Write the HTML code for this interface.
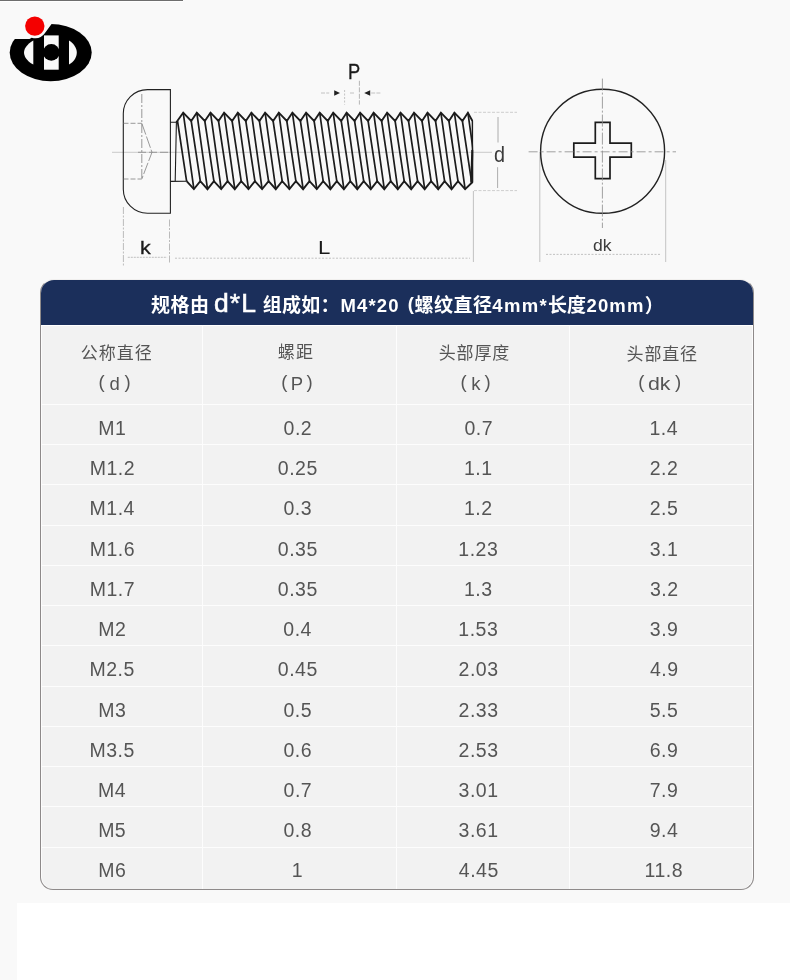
<!DOCTYPE html>
<html lang="zh-CN"><head><meta charset="utf-8"><title>规格表</title>
<style>
html,body{margin:0;padding:0;}
body{width:790px;height:980px;overflow:hidden;position:relative;background:#f9f9f9;font-family:"Liberation Sans","Noto Sans CJK SC",sans-serif;}
.topline{position:absolute;left:0;top:0;width:183px;height:1px;background:#6e6e6e;}
.topline2{position:absolute;left:0;top:1px;width:183px;height:1px;background:#fff;}
.dia{position:absolute;left:0;top:0;}
.white{position:absolute;left:17px;top:903px;width:773px;height:77px;background:#fff;}
.tbl{position:absolute;left:40px;top:279px;width:714px;height:611px;box-sizing:border-box;border:1px solid #8e8a8a;border-top-color:#f0efee;border-radius:14px 14px 13px 13px;background:#f2f2f2;box-shadow:inset 1px 0 #fcfcfc,inset -1px 0 #fcfcfc;}
.hd{position:absolute;left:41px;top:280px;width:712px;height:45px;background:#1b2f5b;border-radius:13px 13px 0 0;}
.vl{position:absolute;top:325px;width:1px;height:564px;background:#fdfdfd;}
.hl{position:absolute;left:41px;width:712px;height:1px;background:#fdfdfd;}
.t{position:absolute;white-space:nowrap;line-height:1.2;}
.h{color:#fff;font-weight:bold;}
.big{font-weight:normal;-webkit-text-stroke:0.55px #fff;}
.th{color:#555;}
.c{color:#555;}
.lab{color:#1a1a1a;}
.kb{-webkit-text-stroke:0.3px #1a1a1a;}
.pb{-webkit-text-stroke:0.35px #1a1a1a;}
.thin{color:#3c3c3c;}
</style></head><body>
<div class="topline"></div><div class="topline2"></div>
<svg class="dia" width="790" height="278" viewBox="0 0 790 278">
<defs><clipPath id="tc"><rect x="170" y="105" width="303.2" height="92"/></clipPath></defs>
<!-- logo -->
<g>
<ellipse cx="50.7" cy="52.6" rx="41" ry="28.6" fill="#000"/>
<path d="M0 3 H53.5 L52.3 23 L44.8 33.2 A12 12 0 0 1 31.7 37.7 L29.5 38.9 H0 Z" fill="#f9f9f9"/>
<path d="M33.3 40.6 C26.5 44.5 24 49.5 24 52.5 C24 56 26.5 61 33.3 64.6 Z" fill="#f9f9f9"/>
<path d="M69 40.6 C74.5 44 76.8 49 76.8 52.5 C76.8 56.5 74.5 61.5 69 64.6 Z" fill="#f9f9f9"/>
<rect x="44" y="35.4" width="14.7" height="34.3" fill="#f9f9f9"/>
<circle cx="51.3" cy="52.4" r="8.3" fill="#000"/>
<circle cx="34.8" cy="26.1" r="9.7" fill="#f40000"/>
</g>
<!-- centre line -->
<path d="M112 152.3 H492" stroke="#bdbdbd" stroke-width="0.8" fill="none"/>
<!-- head -->
<path d="M170.4 89.6 H147.5 A24.2 24 0 0 0 123.3 113.6 V189.2 A24.2 24 0 0 0 147.5 213.2 H170.4 Z" fill="none" stroke="#222" stroke-width="1.1"/>
<g stroke="#808080" stroke-width="0.8" fill="none">
<path d="M141.8 94 V179" stroke-dasharray="9 2 2 2"/>
<path d="M123.5 123.3 H141.8 M123.5 179 H141.8" stroke-dasharray="5 2"/>
<path d="M141.8 123.3 L152 152.3 L141.8 179" stroke-dasharray="12 2"/>
<path d="M138 152.3 H170" stroke="#888" stroke-dasharray="8 3"/>
</g>
<!-- thread -->
<g clip-path="url(#tc)" fill="none" stroke="#1c1c1c" stroke-linejoin="miter">
<path d="M176.4 122.2 L183.2 112.7 L191.2 121 L196.8 112.7 L204.8 121 L210.5 112.7 L218.5 121 L224.1 112.7 L232.1 121 L237.8 112.7 L245.8 121 L251.4 112.7 L259.4 121 L265.1 112.7 L273.1 121 L278.8 112.7 L286.8 121 L292.4 112.7 L300.4 121 L306.1 112.7 L314.1 121 L319.7 112.7 L327.7 121 L333.2 112.7 L341.2 121 L346.6 112.7 L354.6 121 L360.1 112.7 L368.1 121 L373.6 112.7 L381.6 121 L387.1 112.7 L395.1 121 L400.5 112.7 L408.5 121 L414 112.7 L422 121 L427.5 112.7 L435.5 121 L440.9 112.7 L448.9 121 L454.4 112.7 L462.4 121 L467.9 112.7 L472.6 121.3 L472.6 182 L465.1 189.2 L458 181.2 L451.6 189.2 L444.6 181.2 L438.2 189.2 L431.1 181.2 L424.7 189.2 L417.6 181.2 L411.2 189.2 L404.2 181.2 L397.8 189.2 L390.7 181.2 L384.3 189.2 L377.2 181.2 L370.8 189.2 L363.7 181.2 L357.3 189.2 L350.3 181.2 L343.9 189.2 L336.8 181.2 L330.4 189.2 L323.2 181.2 L316.8 189.2 L309.5 181.2 L303.1 189.2 L295.9 181.2 L289.4 189.2 L282.2 181.2 L275.8 189.2 L268.6 181.2 L262.1 189.2 L254.9 181.2 L248.5 189.2 L241.2 181.2 L234.8 189.2 L227.6 181.2 L221.2 189.2 L213.9 181.2 L207.5 189.2 L200.3 181.2 L193.9 189.2 L186.6 181.2" stroke-width="1.85"/>
<path d="M177.5 121 L186.6 181.2 M183.2 112.7 L193.9 189.2 M191.2 121 L200.3 181.2 M196.8 112.7 L207.5 189.2 M204.8 121 L213.9 181.2 M210.5 112.7 L221.2 189.2 M218.5 121 L227.6 181.2 M224.1 112.7 L234.8 189.2 M232.1 121 L241.2 181.2 M237.8 112.7 L248.5 189.2 M245.8 121 L254.9 181.2 M251.4 112.7 L262.1 189.2 M259.4 121 L268.6 181.2 M265.1 112.7 L275.8 189.2 M273.1 121 L282.2 181.2 M278.8 112.7 L289.4 189.2 M286.8 121 L295.9 181.2 M292.4 112.7 L303.1 189.2 M300.4 121 L309.5 181.2 M306.1 112.7 L316.8 189.2 M314.1 121 L323.2 181.2 M319.7 112.7 L330.4 189.2 M327.7 121 L336.8 181.2 M333.2 112.7 L343.9 189.2 M341.2 121 L350.3 181.2 M346.6 112.7 L357.3 189.2 M354.6 121 L363.7 181.2 M360.1 112.7 L370.8 189.2 M368.1 121 L377.2 181.2 M373.6 112.7 L384.3 189.2 M381.6 121 L390.7 181.2 M387.1 112.7 L397.8 189.2 M395.1 121 L404.2 181.2 M400.5 112.7 L411.2 189.2 M408.5 121 L417.6 181.2 M414 112.7 L424.7 189.2 M422 121 L431.1 181.2 M427.5 112.7 L438.2 189.2 M435.5 121 L444.6 181.2 M440.9 112.7 L451.6 189.2 M448.9 121 L458 181.2 M454.4 112.7 L465.1 189.2 M462.4 121 L471.5 181.2 M467.9 112.7 L478.6 189.2 M475.9 121 L485 181.2" stroke-width="1.7"/>
<path d="M170.4 122.2 H176.4 L175.2 181.3 M170.4 181.4 L186.5 181.2" stroke-width="1.1"/>
</g>
<path d="M471.3 150 L473.2 150 L473.2 182.5 L470.2 182.5 Z" fill="#1c1c1c"/>
<!-- dims -->
<g stroke="#b5b5b5" stroke-width="0.8" fill="none">
<path d="M123.4 207 V266.6 M169.5 219.5 V263.5" stroke="#a0a0a0" stroke-width="0.7" stroke-dasharray="7 1.5 2 1.5"/>
<path d="M127.8 257.3 H167.1" stroke="#b0b0b0" stroke-dasharray="2 1"/><path d="M175 258.2 H470" stroke-dasharray="2 1.5"/>
<path d="M473.4 191 V262"/>
<path d="M474 112.3 H517 M474 190.6 H517" stroke="#c2c2c2" stroke-dasharray="3 1.5"/>
<path d="M498 117 V142.5 M497.6 167.2 V188" stroke="#999"/>
<path d="M344.6 90 V104.6" stroke-dasharray="2 1.5"/><path d="M359.4 80.8 V104.6" stroke="#999" stroke-width="0.7" stroke-dasharray="5 1.5"/>
<path d="M321 93 H329.2 M371.2 93 H380.8 M350 93 H354.5" stroke-dasharray="4 1.2"/>
<path d="M539.8 152 V262 M665.7 160 V262"/>
<path d="M546 254.4 H660" stroke-dasharray="2 1.5"/>
</g>
<path d="M340 93 L334.2 90.3 V95.7 Z M364.2 93 L370.2 90.3 V95.7 Z" fill="#222"/>
<!-- circle view -->
<circle cx="602.6" cy="151.3" r="62" fill="none" stroke="#222" stroke-width="1.4"/>
<path d="M595.3 122.3 H610 V143.2 H631.3 V157.2 H610 V178.7 H595.3 V157.2 H573.8 V143.2 H595.3 Z" fill="none" stroke="#1c1c1c" stroke-width="1.7"/>
<g stroke="#8a8a8a" stroke-width="0.8" fill="none">
<path d="M528.6 151.8 H676" stroke-dasharray="9 3 3 3"/>
<path d="M602.4 78.6 V228" stroke-dasharray="12 2 2 2"/>
</g>

</svg>
<div class="tbl"></div>
<div class="hd"></div>
<div class="hl" style="top:325px;background:#fff"></div>
<div class="vl" style="left:202px"></div><div class="vl" style="left:396px"></div><div class="vl" style="left:569px"></div>
<div class="hl" style="top:404px"></div><div class="hl" style="top:444px"></div><div class="hl" style="top:484px"></div><div class="hl" style="top:525px"></div><div class="hl" style="top:565px"></div><div class="hl" style="top:605px"></div><div class="hl" style="top:645px"></div><div class="hl" style="top:686px"></div><div class="hl" style="top:726px"></div><div class="hl" style="top:766px"></div><div class="hl" style="top:806px"></div><div class="hl" style="top:847px"></div>
<span id="h1" class="t h" style="left:151.08px;top:295px;font-size:19px;letter-spacing:0.43px;">规格由</span>
<span id="h2" class="t h big" style="left:213.89px;top:288px;font-size:26.5px;letter-spacing:1.15px;">d*L</span>
<span id="h3" class="t h" style="left:262.65px;top:295px;font-size:19px;letter-spacing:0.3px;">组成如：</span>
<span id="h4" class="t h" style="left:340.53px;top:295px;font-size:18.5px;letter-spacing:1.12px;">M4*20</span>
<span id="h5" class="t h" style="left:407.82px;top:293px;font-size:18.5px;">(</span>
<span id="h6" class="t h" style="left:414.58px;top:295px;font-size:19px;letter-spacing:0.45px;">螺纹直径</span>
<span id="h7" class="t h" style="left:492.28px;top:295px;font-size:18.5px;letter-spacing:1.33px;">4mm*</span>
<span id="h8" class="t h" style="left:548px;top:295px;font-size:19px;letter-spacing:0.04px;">长度</span>
<span id="h9" class="t h" style="left:586.51px;top:295px;font-size:18.5px;letter-spacing:1.12px;">20mm</span>
<span id="h10" class="t h" style="left:644.75px;top:296px;font-size:19px;">）</span>
<span id="a1" class="t th" style="left:80.86px;top:344px;font-size:17px;letter-spacing:0.93px;">公称直径</span>
<span id="a2" class="t th" style="left:277.67px;top:343px;font-size:17px;letter-spacing:1.25px;">螺距</span>
<span id="a3" class="t th" style="left:438.8px;top:344px;font-size:17px;letter-spacing:0.81px;">头部厚度</span>
<span id="a4" class="t th" style="left:626.6px;top:345px;font-size:17px;letter-spacing:0.8px;">头部直径</span>
<span id="b1l" class="t th lat" style="left:98.4px;top:371px;font-size:18.5px;">(</span>
<span id="b1m" class="t th lat" style="left:109.6px;top:373px;font-size:18.5px;">d</span>
<span id="b1r" class="t th lat" style="left:124.5px;top:371px;font-size:18.5px;">)</span>
<span id="b2l" class="t th lat" style="left:281.21px;top:371px;font-size:18.5px;">(</span>
<span id="b2m" class="t th lat" style="left:290.87px;top:373px;font-size:18.5px;">P</span>
<span id="b2r" class="t th lat" style="left:306.55px;top:371px;font-size:18.5px;">)</span>
<span id="b3l" class="t th lat" style="left:460.4px;top:371px;font-size:18.5px;">(</span>
<span id="b3m" class="t th lat" style="left:471.26px;top:373px;font-size:18.5px;">k</span>
<span id="b3r" class="t th lat" style="left:484.55px;top:371px;font-size:18.5px;">)</span>
<span id="b4l" class="t th lat" style="left:638.16px;top:371px;font-size:18.5px;">(</span>
<span id="b4m" class="t th lat" style="left:648px;top:373px;font-size:18.5px;transform:scaleX(1.15);transform-origin:0 0;">dk</span>
<span id="b4r" class="t th lat" style="left:674.95px;top:371px;font-size:18.5px;">)</span>
<span id="g1" class="t lab pb" style="left:348px;top:60px;font-size:21.5px;transform:scaleX(0.85);transform-origin:0 0;">P</span>
<span id="g2" class="t lab kb" style="left:140px;top:238px;font-size:17.6px;transform:scaleX(1.22);transform-origin:0 0;">k</span>
<span id="g3" class="t lab" style="left:318px;top:237px;font-size:18.7px;transform:scaleX(1.19);transform-origin:0 0;">L</span>
<span id="g4" class="t lab thin" style="left:494.4px;top:142px;font-size:22px;transform:scaleX(0.9);transform-origin:0 0;">d</span>
<span id="g5" class="t lab thin" style="left:593px;top:236px;font-size:16px;transform:scaleX(1.1);transform-origin:0 0;">dk</span>
<span id="r0c0" class="t c" style="left:98.18px;top:417px;font-size:19.5px;letter-spacing:0.5px;">M1</span>
<span id="r0c1" class="t c" style="left:283.54px;top:417px;font-size:19.5px;letter-spacing:0.5px;">0.2</span>
<span id="r0c2" class="t c" style="left:464.53px;top:417px;font-size:19.5px;letter-spacing:0.5px;">0.7</span>
<span id="r0c3" class="t c" style="left:649.44px;top:417px;font-size:19.5px;letter-spacing:0.5px;">1.4</span>
<span id="r1c0" class="t c" style="left:89.74px;top:457px;font-size:19.5px;letter-spacing:0.5px;">M1.2</span>
<span id="r1c1" class="t c" style="left:277.87px;top:457px;font-size:19.5px;letter-spacing:0.5px;">0.25</span>
<span id="r1c2" class="t c" style="left:463.97px;top:457px;font-size:19.5px;letter-spacing:0.5px;">1.1</span>
<span id="r1c3" class="t c" style="left:649.74px;top:457px;font-size:19.5px;letter-spacing:0.5px;">2.2</span>
<span id="r2c0" class="t c" style="left:89.57px;top:497px;font-size:19.5px;letter-spacing:0.5px;">M1.4</span>
<span id="r2c1" class="t c" style="left:283.53px;top:497px;font-size:19.5px;letter-spacing:0.5px;">0.3</span>
<span id="r2c2" class="t c" style="left:463.99px;top:497px;font-size:19.5px;letter-spacing:0.5px;">1.2</span>
<span id="r2c3" class="t c" style="left:649.68px;top:497px;font-size:19.5px;letter-spacing:0.5px;">2.5</span>
<span id="r3c0" class="t c" style="left:89.67px;top:538px;font-size:19.5px;letter-spacing:0.5px;">M1.6</span>
<span id="r3c1" class="t c" style="left:277.87px;top:538px;font-size:19.5px;letter-spacing:0.5px;">0.35</span>
<span id="r3c2" class="t c" style="left:458.35px;top:538px;font-size:19.5px;letter-spacing:0.5px;">1.23</span>
<span id="r3c3" class="t c" style="left:649.78px;top:538px;font-size:19.5px;letter-spacing:0.5px;">3.1</span>
<span id="r4c0" class="t c" style="left:89.74px;top:578px;font-size:19.5px;letter-spacing:0.5px;">M1.7</span>
<span id="r4c1" class="t c" style="left:277.87px;top:578px;font-size:19.5px;letter-spacing:0.5px;">0.35</span>
<span id="r4c2" class="t c" style="left:463.97px;top:578px;font-size:19.5px;letter-spacing:0.5px;">1.3</span>
<span id="r4c3" class="t c" style="left:649.93px;top:578px;font-size:19.5px;letter-spacing:0.5px;">3.2</span>
<span id="r5c0" class="t c" style="left:98.2px;top:618px;font-size:19.5px;letter-spacing:0.5px;">M2</span>
<span id="r5c1" class="t c" style="left:283.36px;top:618px;font-size:19.5px;letter-spacing:0.5px;">0.4</span>
<span id="r5c2" class="t c" style="left:458.35px;top:618px;font-size:19.5px;letter-spacing:0.5px;">1.53</span>
<span id="r5c3" class="t c" style="left:649.79px;top:618px;font-size:19.5px;letter-spacing:0.5px;">3.9</span>
<span id="r6c0" class="t c" style="left:89.51px;top:658px;font-size:19.5px;letter-spacing:0.5px;">M2.5</span>
<span id="r6c1" class="t c" style="left:277.87px;top:658px;font-size:19.5px;letter-spacing:0.5px;">0.45</span>
<span id="r6c2" class="t c" style="left:458.61px;top:658px;font-size:19.5px;letter-spacing:0.5px;">2.03</span>
<span id="r6c3" class="t c" style="left:650.01px;top:658px;font-size:19.5px;letter-spacing:0.5px;">4.9</span>
<span id="r7c0" class="t c" style="left:98.18px;top:699px;font-size:19.5px;letter-spacing:0.5px;">M3</span>
<span id="r7c1" class="t c" style="left:283.49px;top:699px;font-size:19.5px;letter-spacing:0.5px;">0.5</span>
<span id="r7c2" class="t c" style="left:458.61px;top:699px;font-size:19.5px;letter-spacing:0.5px;">2.33</span>
<span id="r7c3" class="t c" style="left:649.66px;top:699px;font-size:19.5px;letter-spacing:0.5px;">5.5</span>
<span id="r8c0" class="t c" style="left:89.51px;top:739px;font-size:19.5px;letter-spacing:0.5px;">M3.5</span>
<span id="r8c1" class="t c" style="left:283.51px;top:739px;font-size:19.5px;letter-spacing:0.5px;">0.6</span>
<span id="r8c2" class="t c" style="left:458.61px;top:739px;font-size:19.5px;letter-spacing:0.5px;">2.53</span>
<span id="r8c3" class="t c" style="left:649.72px;top:739px;font-size:19.5px;letter-spacing:0.5px;">6.9</span>
<span id="r9c0" class="t c" style="left:97.98px;top:779px;font-size:19.5px;letter-spacing:0.5px;">M4</span>
<span id="r9c1" class="t c" style="left:283.54px;top:779px;font-size:19.5px;letter-spacing:0.5px;">0.7</span>
<span id="r9c2" class="t c" style="left:458.62px;top:779px;font-size:19.5px;letter-spacing:0.5px;">3.01</span>
<span id="r9c3" class="t c" style="left:649.73px;top:779px;font-size:19.5px;letter-spacing:0.5px;">7.9</span>
<span id="r10c0" class="t c" style="left:98.14px;top:819px;font-size:19.5px;letter-spacing:0.5px;">M5</span>
<span id="r10c1" class="t c" style="left:283.52px;top:819px;font-size:19.5px;letter-spacing:0.5px;">0.8</span>
<span id="r10c2" class="t c" style="left:458.62px;top:819px;font-size:19.5px;letter-spacing:0.5px;">3.61</span>
<span id="r10c3" class="t c" style="left:649.7px;top:819px;font-size:19.5px;letter-spacing:0.5px;">9.4</span>
<span id="r11c0" class="t c" style="left:98.16px;top:859px;font-size:19.5px;letter-spacing:0.5px;">M6</span>
<span id="r11c1" class="t c" style="left:291.8px;top:859px;font-size:19.5px;letter-spacing:0.5px;">1</span>
<span id="r11c2" class="t c" style="left:458.81px;top:859px;font-size:19.5px;letter-spacing:0.5px;">4.45</span>
<span id="r11c3" class="t c" style="left:644.6px;top:859px;font-size:19.5px;letter-spacing:0.5px;">11.8</span>

<div class="white"></div>
</body></html>
